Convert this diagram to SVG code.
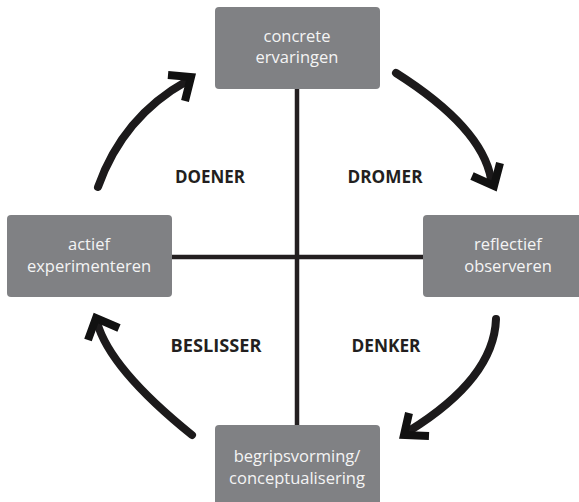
<svg xmlns="http://www.w3.org/2000/svg" width="579" height="502" viewBox="0 0 579 502">
<style>
.box{fill:#808184;}
.bt{font-family:"Open Sans","Noto Sans",sans-serif;font-size:16.5px;fill:#f4f4f4;text-anchor:middle;font-weight:400;}
.lbl{font-family:"Open Sans","Noto Sans",sans-serif;font-size:17px;font-weight:700;fill:#231f20;text-anchor:middle;}
.axis{stroke:#231f20;stroke-width:4.5;fill:none;}
.arc{stroke:#1c1a1b;stroke-width:8;fill:none;stroke-linecap:round;}
.head{stroke:#111;stroke-width:8;fill:none;stroke-linejoin:miter;stroke-miterlimit:10;stroke-linecap:butt;}
</style>
<rect width="579" height="502" fill="#ffffff"/>
<g id="connectors">
<line class="axis" x1="297" y1="88" x2="297" y2="426"/>
<line class="axis" x1="171" y1="257" x2="424" y2="257"/>
<path class="arc" d="M396,73 Q482,127.5 491,179"/>
<polyline class="head" points="472,176 494,186 500,163"/>
<path class="arc" d="M496,319 Q494,378.5 409,431"/>
<polyline class="head" points="409,413 404,435 429,436"/>
<path class="arc" d="M192,435 Q109.5,368.5 97,322"/>
<polyline class="head" points="88,340 96,318 119,328"/>
<path class="arc" d="M98,187 Q123,116.5 187,81"/>
<polyline class="head" points="168,75 191,77 185,101"/>
</g>
<g id="node-concrete">
<rect class="box" x="215" y="7" width="165" height="82" rx="4"/>
<text class="bt" x="297" y="42">concrete</text>
<text class="bt" x="297" y="63">ervaringen</text>
</g>
<g id="node-reflectief">
<rect class="box" x="423" y="215" width="167" height="82" rx="4"/>
<text class="bt" x="508" y="250">reflectief</text>
<text class="bt" x="508" y="272">observeren</text>
</g>
<g id="node-actief">
<rect class="box" x="7" y="215" width="165" height="82" rx="4"/>
<text class="bt" x="89" y="250">actief</text>
<text class="bt" x="89" y="272">experimenteren</text>
</g>
<g id="node-begrip">
<rect class="box" x="215" y="425" width="165" height="90" rx="4"/>
<text class="bt" x="297" y="462">begripsvorming/</text>
<text class="bt" x="297" y="484">conceptualisering</text>
</g>
<g id="labels">
<text class="lbl" x="210" y="183" textLength="70" lengthAdjust="spacingAndGlyphs">DOENER</text>
<text class="lbl" x="385" y="183" textLength="75" lengthAdjust="spacingAndGlyphs">DROMER</text>
<text class="lbl" x="216" y="352" textLength="91" lengthAdjust="spacingAndGlyphs">BESLISSER</text>
<text class="lbl" x="386" y="352" textLength="69" lengthAdjust="spacingAndGlyphs">DENKER</text>
</g>
</svg>
